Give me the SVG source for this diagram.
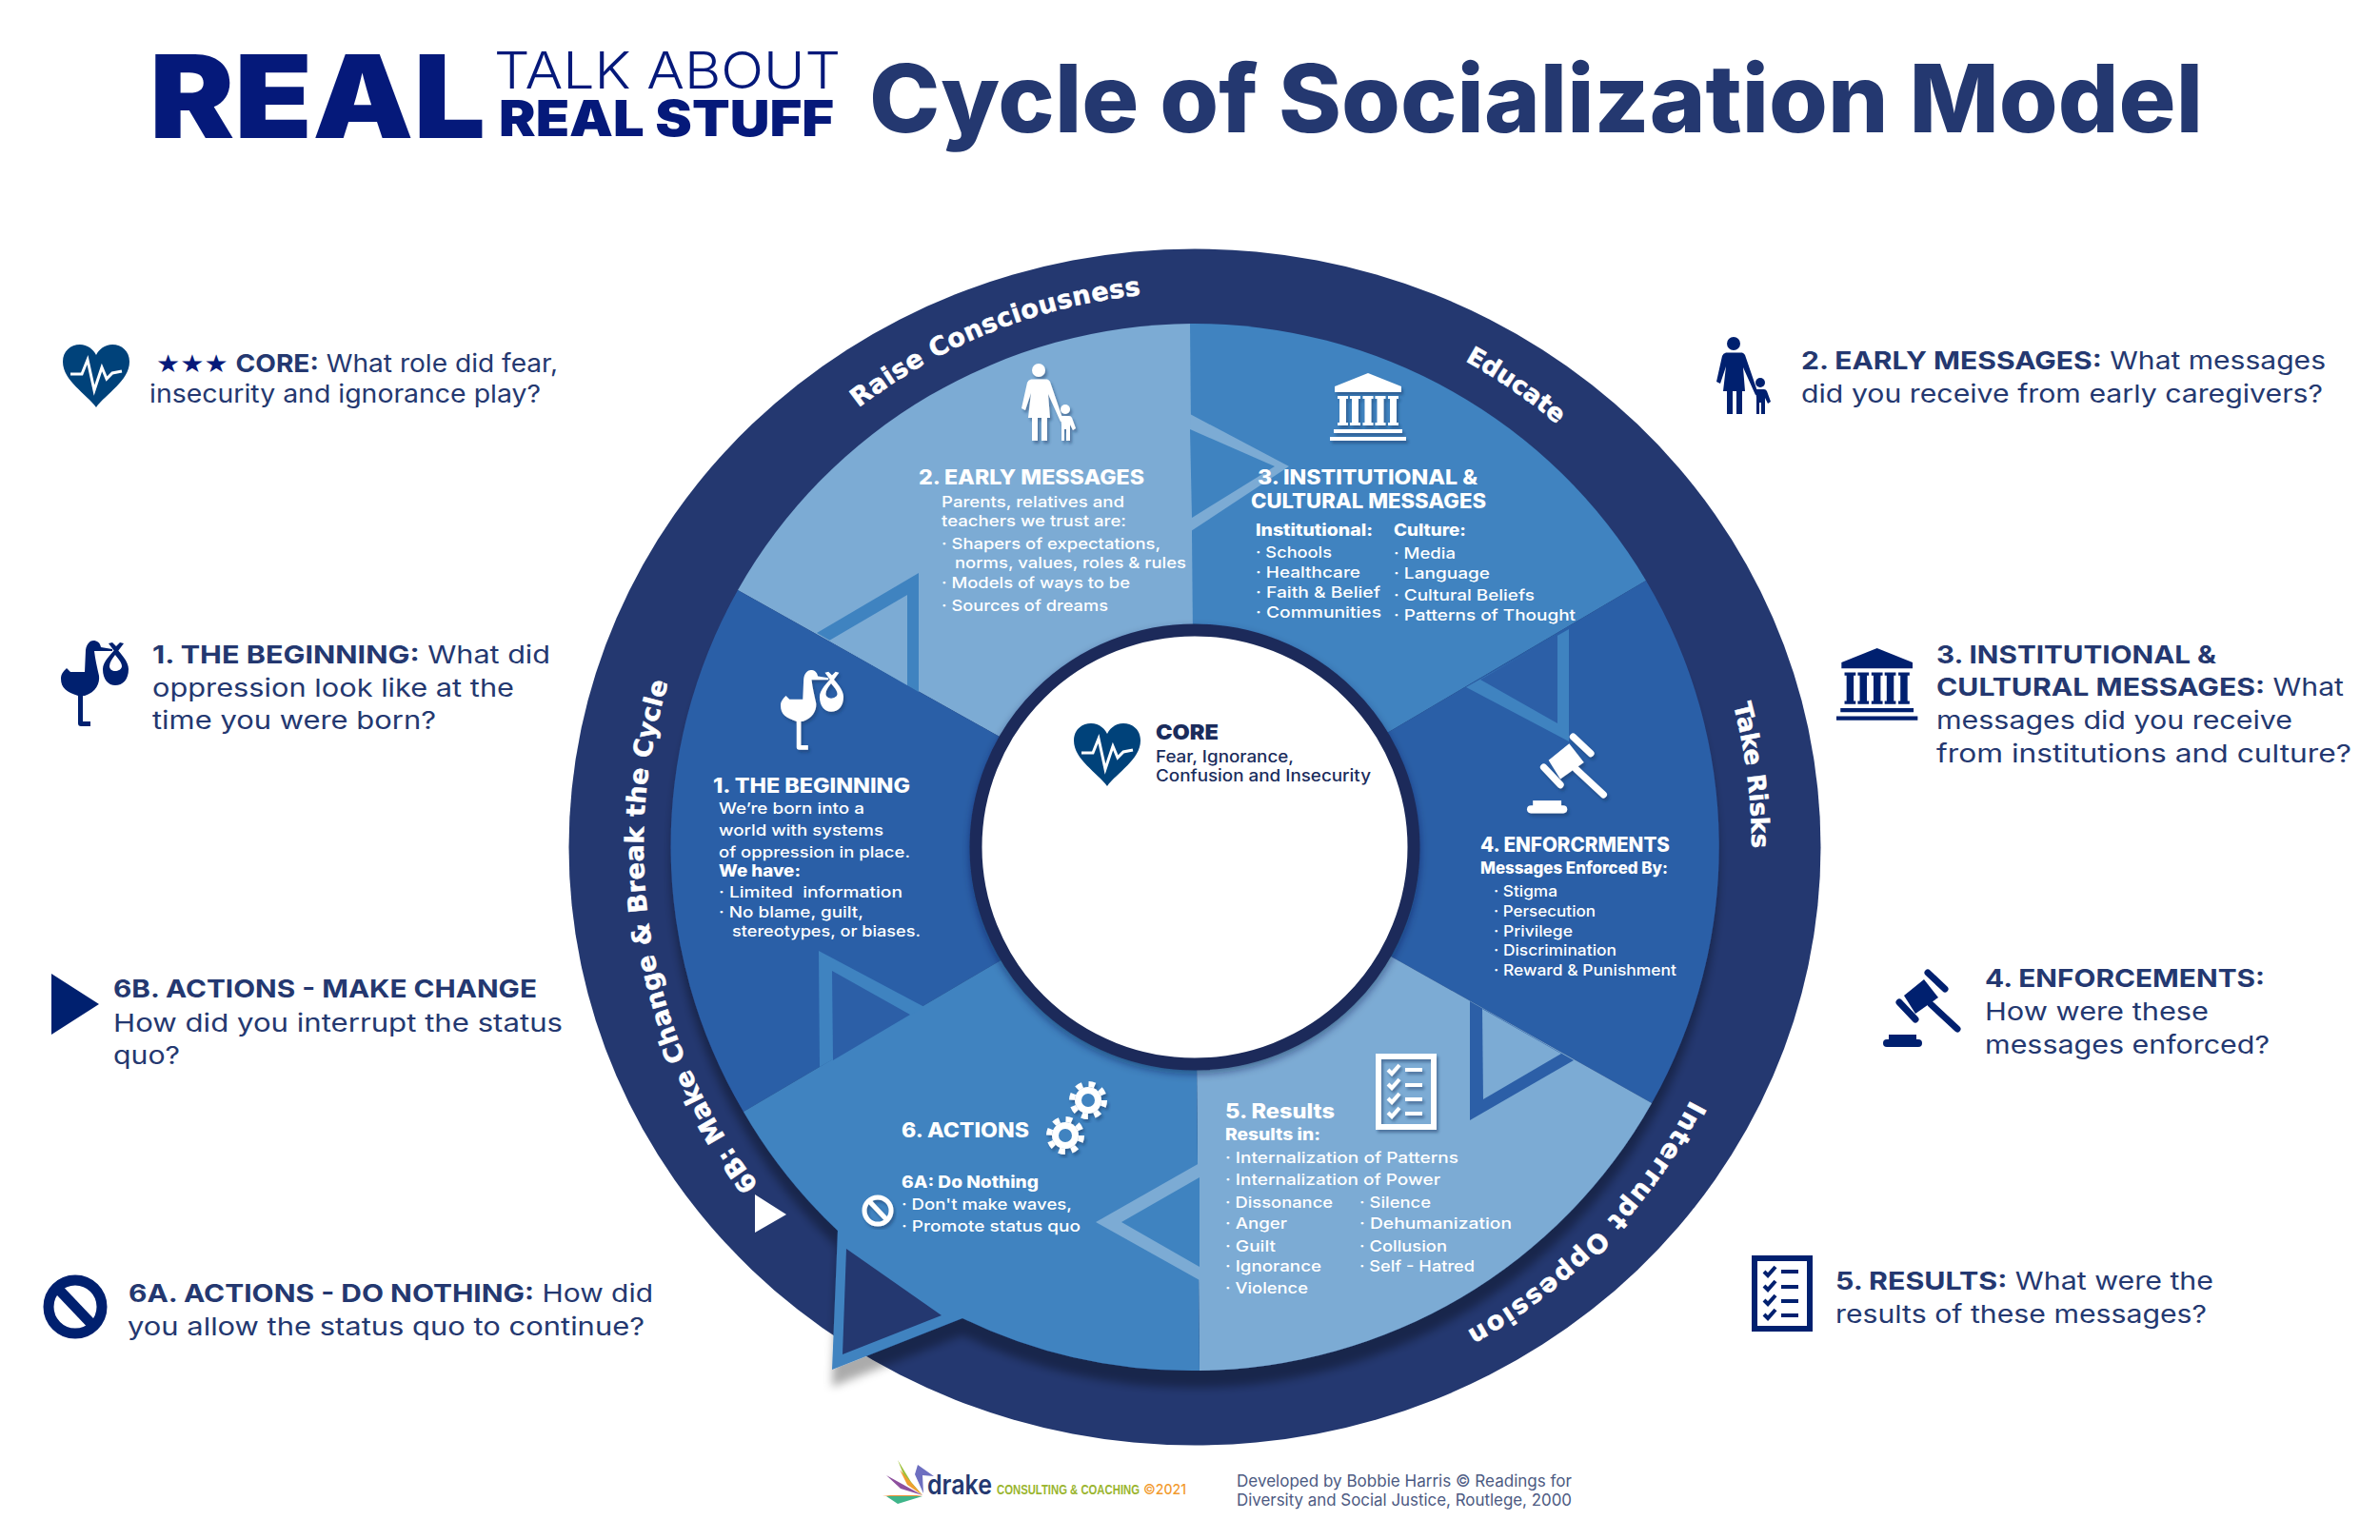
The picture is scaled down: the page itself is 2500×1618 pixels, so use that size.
<svg xmlns="http://www.w3.org/2000/svg" width="2500" height="1618" viewBox="0 0 2500 1618">
<style>
text{font-family:Inter,"Liberation Sans",sans-serif;white-space:pre}
.q{font-size:26px;font-weight:400;fill:#243870}
.qb{font-weight:700}
.h{font-size:21px;font-weight:800;fill:#fff}
.s{font-size:16.5px;font-weight:500;fill:#fff}
.sb{font-size:17px;font-weight:800;fill:#fff}
.band{font-family:"DejaVu Sans",sans-serif;font-size:27px;font-weight:700;fill:#fff;stroke:#fff;stroke-width:.5}
.c1{fill:#2c5fa7}.c2{fill:#7cabd4}.c3{fill:#3f83c0}
</style>
<defs>
<filter id="drop" x="-10%" y="-10%" width="120%" height="120%"><feDropShadow dx="0" dy="18" stdDeviation="5" flood-color="#000" flood-opacity="0.33"/></filter>
<filter id="ring" x="-10%" y="-10%" width="120%" height="120%"><feDropShadow dx="0" dy="4" stdDeviation="4" flood-color="#0b1a45" flood-opacity="0.45"/></filter>
<filter id="ish" x="-20%" y="-20%" width="140%" height="140%"><feDropShadow dx="2" dy="3" stdDeviation="1.5" flood-color="#12305f" flood-opacity="0.45"/></filter>
<path id="bandpath" d="M1258 1472A582 582 0 0 1 676 889A582 582 0 0 1 1840 889A582 582 0 0 1 1258 1472"/>
<g id="i-heart"><path d="M35 66C25 52 0 38 0 18C0 7 8 0 18 0C26 0 32 5 35 11C38 5 44 0 52 0C62 0 70 7 70 18C70 38 45 52 35 66Z"/><path d="M8 31H20L26 16L33 48L41 24L46 36L52 30L62 28" fill="none" stroke="#fff" stroke-width="3"/></g>
<g id="i-family"><circle cx="18" cy="7" r="7"/><path d="M10 16.5H27Q29 17 30 19L44 60L41 61L28 32L30 57H27V81H21V57H17V81H11V57H7L10 31L4 49L0 47L6 20Q7 17 10 16.5Z"/><circle cx="46" cy="48" r="5"/><path d="M41 55H50Q52 55 53 57L57 68L54 70L51 64V81H47V69H45V81H42V64Z"/></g>
<path id="i-col" d="M8 24H19V27H17V52H19V55H8V52H10V27H8Z"/>
<g id="i-temple"><path d="M40 0L75 14V20H5V14Z"/><use href="#i-col"/><use href="#i-col" x="13"/><use href="#i-col" x="26.5"/><use href="#i-col" x="39.5"/><use href="#i-col" x="53"/><path d="M4 59H76V63H4ZM0 67H80V71H0Z"/></g>
<g id="i-stork"><path d="M6 29L10 33L25 33L26 10C27 3 31 0 34 0C38 0 41 2 42 7L54 9V11L35 11C36 20 38 28 40 37C41 45 37 54 25 58L23 58V85H31V90H21Q18 90 18 87V58C6 54 0 50 0 40C0 35 3 32 6 29Z"/><path fill-rule="evenodd" d="M58 8C63 14 71 22 71 30C71 41 65 47 57 47C50 47 44 41 44 30C44 22 53 14 58 8ZM57 15C54 19 51 23 51 27C51 30 54 32 57 32C60 32 64 30 64 27C64 23 60 19 57 15Z"/><path d="M50 3L54 2L58 6L62 2L66 3L60 11H56Z"/></g>
<g id="i-gavel"><path d="M43 11L58 30L34 47L22 28Z"/><path d="M47 4L65 21M17 35L34 53" stroke="currentColor" stroke-width="7" stroke-linecap="round"/><path d="M50 37L78 63" stroke="currentColor" stroke-width="7" stroke-linecap="round"/><rect x="0" y="74" width="41" height="8" rx="4"/><rect x="6" y="69" width="29" height="7"/></g>
<g id="i-list"><rect x="3" y="3" width="58" height="74" fill="none" stroke-width="6" stroke="currentColor"/><g fill="none" stroke="currentColor" stroke-width="4"><path d="M13 17L17 21L25 12M13 32L17 36L25 27M13 47L17 51L25 42M13 62L17 66L25 57"/><path d="M31 17H49M31 33H49M31 48H49M31 63H49"/></g></g>
<g id="i-gear"><circle r="14"/><circle r="17" fill="none" stroke="#fff" stroke-width="6" stroke-dasharray="6.68 6.67"/></g>
</defs>
<rect width="2500" height="1618" fill="#fff"/>
<g id="title">
<text x="157" y="145" font-size="121" font-weight="900" fill="#05197a" textLength="353" lengthAdjust="spacingAndGlyphs">REAL</text>
<text x="519" y="93" font-size="53" font-weight="300" fill="#05197a" textLength="364" lengthAdjust="spacingAndGlyphs">TALK ABOUT</text>
<text x="524" y="143" font-size="52" font-weight="900" fill="#05197a" textLength="352" lengthAdjust="spacingAndGlyphs">REAL STUFF</text>
<text x="913" y="139" font-size="99" font-weight="800" fill="#243870" textLength="1401" lengthAdjust="spacingAndGlyphs">Cycle of Socialization Model</text>
</g>
<ellipse id="outer-ring" cx="1255" cy="890" rx="657.5" ry="628.5" fill="#243870"/>
<g id="band-labels">
<text class="band" letter-spacing=".4"><textPath href="#bandpath" startOffset="532">6B: Make Change &amp; Break the Cycle</textPath></text>
<text class="band" letter-spacing=".5"><textPath href="#bandpath" startOffset="1446">Raise Consciousness</textPath></text>
<text class="band" style="font-size:26px"><textPath href="#bandpath" startOffset="2122">Educate</textPath></text>
<text class="band" style="font-size:26px"><textPath href="#bandpath" startOffset="2593">Take Risks</textPath></text>
<text class="band" letter-spacing="2"><textPath href="#bandpath" startOffset="3020">Interrupt Oppession</textPath></text>
<polygon points="793,1255 793,1295 826,1276" fill="#fff"/>
</g>
<g id="segments" filter="url(#drop)">
<path class="c2" d="M1255 889L775 620A552 550 0 0 1 1252 340Z"/>
<path class="c3" d="M1255 889L1250 340A552 550 0 0 1 1729 610Z"/>
<path class="c1" d="M1255 889L1729 610A552 550 0 0 1 1735 1159Z"/>
<path class="c2" d="M1255 889L1735 1159A552 550 0 0 1 1260 1440Z"/>
<path class="c1" d="M1255 889L781 1168A552 550 0 0 1 775 620Z"/>
<path class="c3" d="M1255 889L1260 1440A552 550 0 0 1 1011 1385L874 1439L880 1293A552 550 0 0 1 781 1168Z"/>
</g>
<g id="connectors">
<polygon class="c3" points="858,665 965,602 965,727"/><polygon class="c2" points="871,673 953,625 953,720"/>
<polygon class="c2" points="1250,435 1354,490 1251,558"/><polygon class="c3" points="1250,451 1339,490 1252,544"/>
<polygon class="c3" points="1648,661 1648,779 1540,722"/><polygon class="c1" points="1636,667 1636,760 1555,714"/>
<polygon class="c1" points="1544,1052 1653,1114 1544,1177"/><polygon class="c2" points="1557,1060 1640,1107 1558,1155"/>
<polygon class="c2" points="1260,1222 1151,1284 1260,1345"/><polygon class="c3" points="1260,1237 1178,1284 1260,1331"/>
<polygon class="c3" points="860,999 971,1058 861,1121"/><polygon class="c1" points="874,1020 956,1066 875,1114"/>
<polygon points="889,1312 885,1423 989,1382" fill="#243870"/>
</g>
<g id="core">
<ellipse cx="1255" cy="890" rx="230" ry="228" fill="#fff" stroke="#1d2b5a" stroke-width="13" filter="url(#ring)"/>
<use href="#i-heart" transform="translate(1128 760)" fill="#00427a"/>
<text x="1214" y="777" font-size="22" font-weight="900" fill="#1a2c5c" textLength="66" lengthAdjust="spacingAndGlyphs">CORE</text>
<text x="1214" y="801" font-size="17" font-weight="500" fill="#1a2c5c" textLength="145" lengthAdjust="spacingAndGlyphs">Fear, Ignorance,</text>
<text x="1214" y="821" font-size="17" font-weight="500" fill="#1a2c5c" textLength="226" lengthAdjust="spacingAndGlyphs">Confusion and Insecurity</text>
</g>
<g id="node-1">
<use href="#i-stork" transform="translate(820 704) scale(.93)" fill="#fff" filter="url(#ish)"/>
<text class="h" x="749" y="833" textLength="207" lengthAdjust="spacingAndGlyphs">1. THE BEGINNING</text>
<text class="s" x="755" y="855" textLength="153" lengthAdjust="spacingAndGlyphs">We’re born into a</text>
<text class="s" x="755" y="878" textLength="173" lengthAdjust="spacingAndGlyphs">world with systems</text>
<text class="s" x="755" y="901" textLength="201" lengthAdjust="spacingAndGlyphs">of oppression in place.</text>
<text class="sb" x="755" y="921" textLength="86" lengthAdjust="spacingAndGlyphs">We have:</text>
<text class="s" x="755" y="943" textLength="193" lengthAdjust="spacingAndGlyphs">· Limited  information</text>
<text class="s" x="755" y="964" textLength="152" lengthAdjust="spacingAndGlyphs">· No blame, guilt,</text>
<text class="s" x="769" y="984" textLength="198" lengthAdjust="spacingAndGlyphs">stereotypes, or biases.</text>
</g>
<g id="node-2">
<use href="#i-family" transform="translate(1073 382)" fill="#fff" filter="url(#ish)"/>
<text class="h" x="965" y="509" textLength="237" lengthAdjust="spacingAndGlyphs">2. EARLY MESSAGES</text>
<text class="s" x="989" y="533" textLength="192" lengthAdjust="spacingAndGlyphs">Parents, relatives and</text>
<text class="s" x="989" y="553" textLength="194" lengthAdjust="spacingAndGlyphs">teachers we trust are:</text>
<text class="s" x="989" y="577" textLength="230" lengthAdjust="spacingAndGlyphs">· Shapers of expectations,</text>
<text class="s" x="1003" y="597" textLength="243" lengthAdjust="spacingAndGlyphs">norms, values, roles &amp; rules</text>
<text class="s" x="989" y="618" textLength="198" lengthAdjust="spacingAndGlyphs">· Models of ways to be</text>
<text class="s" x="989" y="642" textLength="175" lengthAdjust="spacingAndGlyphs">· Sources of dreams</text>
</g>
<g id="node-3">
<use href="#i-temple" transform="translate(1397 392)" fill="#fff" filter="url(#ish)"/>
<text class="h" x="1321" y="509" textLength="231" lengthAdjust="spacingAndGlyphs">3. INSTITUTIONAL &amp;</text>
<text class="h" x="1314" y="534" textLength="247" lengthAdjust="spacingAndGlyphs">CULTURAL MESSAGES</text>
<text class="sb" x="1319" y="563" textLength="123" lengthAdjust="spacingAndGlyphs">Institutional:</text>
<text class="sb" x="1464" y="563" textLength="76" lengthAdjust="spacingAndGlyphs">Culture:</text>
<text class="s" x="1319" y="586" textLength="80" lengthAdjust="spacingAndGlyphs">· Schools</text>
<text class="s" x="1319" y="607" textLength="110" lengthAdjust="spacingAndGlyphs">· Healthcare</text>
<text class="s" x="1319" y="628" textLength="131" lengthAdjust="spacingAndGlyphs">· Faith &amp; Belief</text>
<text class="s" x="1319" y="649" textLength="132" lengthAdjust="spacingAndGlyphs">· Communities</text>
<text class="s" x="1464" y="587" textLength="65" lengthAdjust="spacingAndGlyphs">· Media</text>
<text class="s" x="1464" y="608" textLength="101" lengthAdjust="spacingAndGlyphs">· Language</text>
<text class="s" x="1464" y="631" textLength="148" lengthAdjust="spacingAndGlyphs">· Cultural Beliefs</text>
<text class="s" x="1464" y="652" textLength="191" lengthAdjust="spacingAndGlyphs">· Patterns of Thought</text>
</g>
<g id="node-4">
<use href="#i-gavel" transform="translate(1604 770) scale(1.03)" fill="#fff" color="#fff" filter="url(#ish)"/>
<text class="h" x="1555" y="895" textLength="199" lengthAdjust="spacingAndGlyphs">4. ENFORCRMENTS</text>
<text class="sb" x="1555" y="918" textLength="197" lengthAdjust="spacingAndGlyphs">Messages Enforced By:</text>
<text class="s" x="1569" y="942" textLength="67" lengthAdjust="spacingAndGlyphs">· Stigma</text>
<text class="s" x="1569" y="963" textLength="107" lengthAdjust="spacingAndGlyphs">· Persecution</text>
<text class="s" x="1569" y="984" textLength="83" lengthAdjust="spacingAndGlyphs">· Privilege</text>
<text class="s" x="1569" y="1004" textLength="129" lengthAdjust="spacingAndGlyphs">· Discrimination</text>
<text class="s" x="1569" y="1025" textLength="192" lengthAdjust="spacingAndGlyphs">· Reward &amp; Punishment</text>
</g>
<g id="node-5">
<use href="#i-list" transform="translate(1445 1107)" color="#fff" filter="url(#ish)"/>
<text class="h" x="1287" y="1175" textLength="115" lengthAdjust="spacingAndGlyphs">5. Results</text>
<text class="sb" x="1287" y="1198" textLength="100" lengthAdjust="spacingAndGlyphs">Results in:</text>
<text class="s" x="1287" y="1222" textLength="245" lengthAdjust="spacingAndGlyphs">· Internalization of Patterns</text>
<text class="s" x="1287" y="1245" textLength="226" lengthAdjust="spacingAndGlyphs">· Internalization of Power</text>
<text class="s" x="1287" y="1269" textLength="113" lengthAdjust="spacingAndGlyphs">· Dissonance</text>
<text class="s" x="1287" y="1291" textLength="65" lengthAdjust="spacingAndGlyphs">· Anger</text>
<text class="s" x="1287" y="1315" textLength="53" lengthAdjust="spacingAndGlyphs">· Guilt</text>
<text class="s" x="1287" y="1336" textLength="101" lengthAdjust="spacingAndGlyphs">· Ignorance</text>
<text class="s" x="1287" y="1359" textLength="87" lengthAdjust="spacingAndGlyphs">· Violence</text>
<text class="s" x="1428" y="1269" textLength="75" lengthAdjust="spacingAndGlyphs">· Silence</text>
<text class="s" x="1428" y="1291" textLength="160" lengthAdjust="spacingAndGlyphs">· Dehumanization</text>
<text class="s" x="1428" y="1315" textLength="92" lengthAdjust="spacingAndGlyphs">· Collusion</text>
<text class="s" x="1428" y="1336" textLength="121" lengthAdjust="spacingAndGlyphs">· Self - Hatred</text>
</g>
<g id="node-6">
<g transform="translate(1143 1156)" fill="#fff" filter="url(#ish)"><use href="#i-gear"/><circle r="7" fill="#3f83c0"/></g>
<g transform="translate(1119 1193)" fill="#fff" filter="url(#ish)"><use href="#i-gear"/><circle r="7" fill="#3f83c0"/></g>
<text class="h" x="947" y="1195" textLength="134" lengthAdjust="spacingAndGlyphs">6. ACTIONS</text>
<text class="sb" x="947" y="1248" textLength="144" lengthAdjust="spacingAndGlyphs">6A: Do Nothing</text>
<text class="s" x="947" y="1271" textLength="179" lengthAdjust="spacingAndGlyphs">· Don't make waves,</text>
<text class="s" x="947" y="1294" textLength="188" lengthAdjust="spacingAndGlyphs">· Promote status quo</text>
<g filter="url(#ish)" fill="none" stroke="#fff" stroke-width="5"><ellipse cx="922" cy="1272" rx="14" ry="14"/><path d="M913 1262L932 1282"/></g>
</g>
<g id="q-core">
<use href="#i-heart" transform="translate(66 362)" fill="#00427a"/>
<text class="q" x="164" y="391" textLength="422" lengthAdjust="spacingAndGlyphs"><tspan style="font-family:'DejaVu Sans'" fill="#05197a">★★★</tspan> <tspan class="qb">CORE:</tspan> What role did fear,</text>
<text class="q" x="157" y="423" textLength="411" lengthAdjust="spacingAndGlyphs">insecurity and ignorance play?</text>
</g>
<g id="q-1">
<use href="#i-stork" transform="translate(64 673)" fill="#00206f"/>
<text class="q" x="160" y="697" textLength="418" lengthAdjust="spacingAndGlyphs"><tspan class="qb">1. THE BEGINNING:</tspan> What did</text>
<text class="q" x="160" y="732" textLength="380" lengthAdjust="spacingAndGlyphs">oppression look like at the</text>
<text class="q" x="160" y="766" textLength="298" lengthAdjust="spacingAndGlyphs">time you were born?</text>
</g>
<g id="q-6b">
<polygon points="54,1023 54,1087 104,1055" fill="#00206f"/>
<text class="q qb" x="119" y="1048" textLength="445" lengthAdjust="spacingAndGlyphs">6B. ACTIONS - MAKE CHANGE</text>
<text class="q" x="119" y="1084" textLength="472" lengthAdjust="spacingAndGlyphs">How did you interrupt the status</text>
<text class="q" x="119" y="1118" textLength="70" lengthAdjust="spacingAndGlyphs">quo?</text>
</g>
<g id="q-6a">
<g fill="none" stroke="#00206f" stroke-width="11"><ellipse cx="79" cy="1373" rx="28" ry="28"/><path d="M60 1353L98 1393"/></g>
<text class="q" x="135" y="1368" textLength="551" lengthAdjust="spacingAndGlyphs"><tspan class="qb">6A. ACTIONS - DO NOTHING:</tspan> How did</text>
<text class="q" x="134" y="1403" textLength="543" lengthAdjust="spacingAndGlyphs">you allow the status quo to continue?</text>
</g>
<g id="q-2">
<use href="#i-family" transform="translate(1803 354)" fill="#00206f"/>
<text class="q" x="1892" y="388" textLength="551" lengthAdjust="spacingAndGlyphs"><tspan class="qb">2. EARLY MESSAGES:</tspan> What messages</text>
<text class="q" x="1892" y="423" textLength="548" lengthAdjust="spacingAndGlyphs">did you receive from early caregivers?</text>
</g>
<g id="q-3">
<use href="#i-temple" transform="translate(1929 681) scale(1.067)" fill="#00206f"/>
<text class="q qb" x="2034" y="697" textLength="294" lengthAdjust="spacingAndGlyphs">3. INSTITUTIONAL &amp;</text>
<text class="q" x="2034" y="731" textLength="428" lengthAdjust="spacingAndGlyphs"><tspan class="qb">CULTURAL MESSAGES:</tspan> What</text>
<text class="q" x="2034" y="766" textLength="374" lengthAdjust="spacingAndGlyphs">messages did you receive</text>
<text class="q" x="2034" y="801" textLength="436" lengthAdjust="spacingAndGlyphs">from institutions and culture?</text>
</g>
<g id="q-4">
<use href="#i-gavel" transform="translate(1978 1018)" fill="#00206f" color="#00206f"/>
<text class="q qb" x="2085" y="1037" textLength="294" lengthAdjust="spacingAndGlyphs">4. ENFORCEMENTS:</text>
<text class="q" x="2085" y="1072" textLength="235" lengthAdjust="spacingAndGlyphs">How were these</text>
<text class="q" x="2085" y="1107" textLength="299" lengthAdjust="spacingAndGlyphs">messages enforced?</text>
</g>
<g id="q-5">
<use href="#i-list" transform="translate(1840 1319)" color="#00206f"/>
<text class="q" x="1928" y="1355" textLength="397" lengthAdjust="spacingAndGlyphs"><tspan class="qb">5. RESULTS:</tspan> What were the</text>
<text class="q" x="1928" y="1390" textLength="390" lengthAdjust="spacingAndGlyphs">results of these messages?</text>
</g>
<g id="footer">
<g id="logo">
<polygon points="943,1534 957,1557 969,1571 951,1554" fill="#9fc13a"/>
<polygon points="945,1544 969,1571 953,1560" fill="#f0a030"/>
<polygon points="964,1539 981,1551 969,1550 970,1569 961,1549" fill="#6d6fc0"/>
<polygon points="931,1550 969,1571 946,1564" fill="#8d4f9e"/>
<polygon points="927,1571 969,1571 951,1574" fill="#ea9034"/>
<polygon points="931,1572 969,1572 943,1580" fill="#3fb58a"/>
<text x="974" y="1570" font-size="28" font-weight="600" fill="#243870" textLength="68" lengthAdjust="spacingAndGlyphs">drake</text>
<text x="1047" y="1570" font-size="15" font-weight="700" fill="#9ab52f" textLength="150" lengthAdjust="spacingAndGlyphs" style="font-family:'Liberation Sans'">CONSULTING &amp; COACHING</text>
<text x="1201" y="1570" font-size="15" font-weight="500" fill="#f29a2e" textLength="45" lengthAdjust="spacingAndGlyphs">©2021</text>
</g>
<text x="1299" y="1562" font-size="17" font-weight="400" fill="#4c5a82" textLength="352" lengthAdjust="spacingAndGlyphs">Developed by Bobbie Harris © Readings for</text>
<text x="1299" y="1582" font-size="17" font-weight="400" fill="#4c5a82" textLength="352" lengthAdjust="spacingAndGlyphs">Diversity and Social Justice, Routlege, 2000</text>
</g>
</svg>
